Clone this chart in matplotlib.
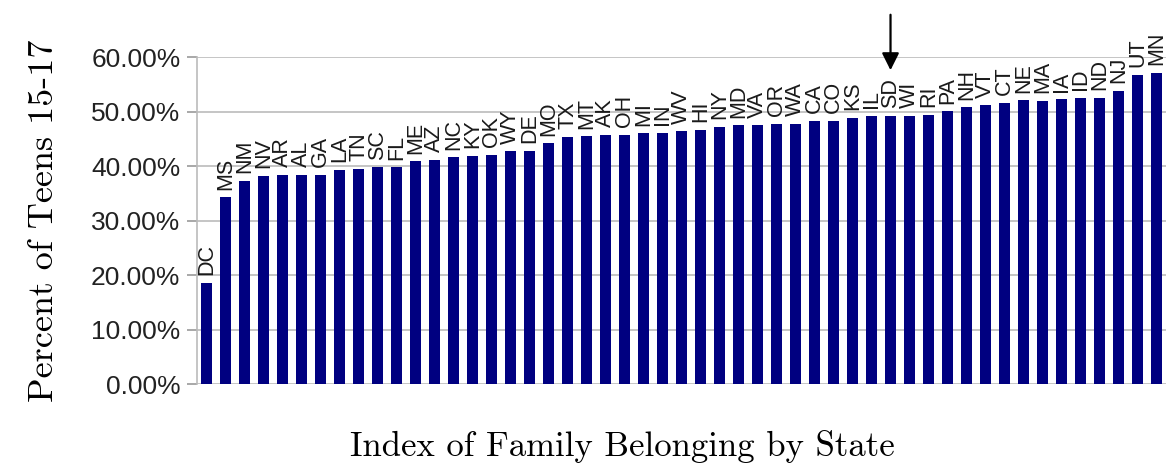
import matplotlib.pyplot as plt
from matplotlib.ticker import PercentFormatter

# States ordered by share of teens 15-17 (index of family belonging)
states = ["DC", "MS", "NM", "NV", "AR", "AL", "GA", "LA", "TN", "SC", "FL",
          "ME", "AZ", "NC", "KY", "OK", "WY", "DE", "MO", "TX", "MT", "AK",
          "OH", "MI", "IN", "WV", "HI", "NY", "MD", "VA", "OR", "WA", "CA",
          "CO", "KS", "IL", "SD", "WI", "RI", "PA", "NH", "VT", "CT", "NE",
          "MA", "IA", "ID", "ND", "NJ", "UT", "MN"]
percent = [18.6, 34.3, 37.3, 38.2, 38.4, 38.4, 38.4, 39.3, 39.5, 39.8, 39.8,
           40.9, 41.2, 41.6, 41.9, 42.1, 42.7, 42.8, 44.2, 45.4, 45.5, 45.8,
           45.8, 46.0, 46.1, 46.4, 46.7, 47.2, 47.5, 47.5, 47.8, 47.8, 48.3,
           48.3, 48.9, 49.2, 49.2, 49.2, 49.4, 50.1, 50.8, 51.2, 51.6, 52.1,
           52.0, 52.3, 52.6, 52.6, 53.8, 56.8, 57.1]
highlight = "SD"

sans = ["Liberation Sans", "DejaVu Sans"]
serif = ["cmr10", "DejaVu Serif"]

fig = plt.figure(figsize=(11.66, 4.65), dpi=100)
ax = fig.add_axes([0.169, 0.174, 0.831, 0.703])

x = list(range(len(states)))
ax.bar(x, percent, width=0.6, color="#000080", zorder=3)

for i, (s, v) in enumerate(zip(states, percent)):
    ax.text(i, v + 1.4, s, rotation=90, ha="center", va="bottom",
            fontsize=15.5, family=sans, color="#1a1a1a")

# arrow pointing at the highlighted state
hi = states.index(highlight)
ax.annotate("", xy=(hi, percent[hi] + 7.9), xytext=(hi, percent[hi] + 19.1),
            annotation_clip=False,
            arrowprops=dict(arrowstyle="-|>", color="black", lw=1.6,
                            mutation_scale=26))

ax.set_xlim(-0.5, len(states) - 0.5)
ax.set_ylim(0, 60)
ax.set_yticks(range(0, 61, 10))
ax.yaxis.set_major_formatter(PercentFormatter(decimals=2))
ax.set_xticks([])
ax.grid(axis="y", color="#bbbbbb", lw=1.2, zorder=0)
ax.tick_params(axis="y", length=7, color="#999999", width=1.2, pad=5)
for lab in ax.get_yticklabels():
    lab.set_family(sans)
    lab.set_fontsize(19)
    lab.set_color("#222222")

for side in ["top", "right", "bottom"]:
    ax.spines[side].set_visible(False)
ax.spines["left"].set_color("#bbbbbb")
ax.spines["left"].set_linewidth(1.2)

ax.set_ylabel("Percent of Teens 15-17", family=serif, fontsize=26, labelpad=22)
ax.set_xlabel("Index of Family Belonging by State", family=serif, fontsize=25)
ax.xaxis.set_label_coords(0.439, -0.14)

fig.savefig("out.png", dpi=100)
